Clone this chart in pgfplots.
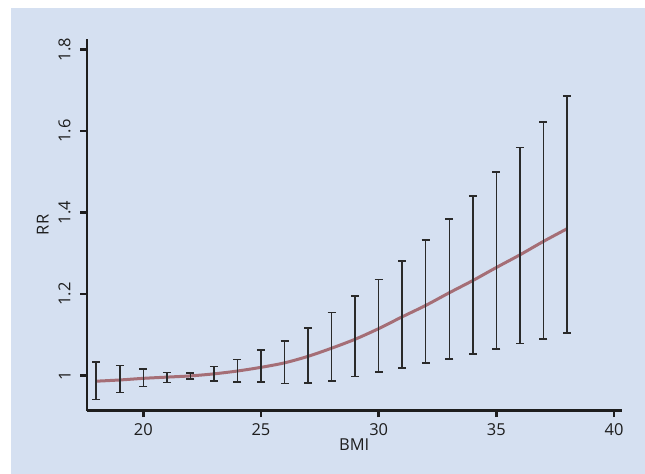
\documentclass[border=0pt]{standalone}
\usepackage{fontspec}
\setmainfont{Open Sans}
\usepackage{pgfplots}
\usepackage{pgfplotstable}
\pgfplotsset{compat=1.18}

\definecolor{bgblue}{HTML}{D5E0F1}
\definecolor{rrline}{HTML}{A56E76}
\definecolor{barcol}{HTML}{2A2A2A}
\definecolor{axcol}{HTML}{1E1E1E}

% BMI, RR and its 95% limits
\pgfplotstableread{
x   y     lo    hi
18  0.986 0.941 1.033
19  0.989 0.958 1.024
20  0.993 0.973 1.016
21  0.996 0.983 1.007
22  0.999 0.991 1.006
23  1.004 0.987 1.022
24  1.011 0.984 1.039
25  1.020 0.984 1.062
26  1.031 0.980 1.085
27  1.047 0.982 1.117
28  1.067 0.987 1.154
29  1.089 0.998 1.195
30  1.115 1.009 1.236
31  1.144 1.018 1.281
32  1.172 1.031 1.333
33  1.203 1.040 1.384
34  1.233 1.053 1.441
35  1.265 1.065 1.499
36  1.296 1.078 1.559
37  1.329 1.090 1.622
38  1.360 1.104 1.686
}\rrdata

\begin{document}
\begin{tikzpicture}
\fill[white] (0,0) rectangle (645bp,474bp);
\fill[bgblue] (11bp,0) rectangle (645bp,466bp);
\begin{axis}[
    at={(86.7bp,63.3bp)}, anchor=origin,
    scale only axis, width=535bp, height=371.7bp,
    axis lines=left, axis line style={-, line width=2.4bp, axcol},
    xmin=17.595, xmax=40.327, ymin=0.9136, ymax=1.8258,
    xtick={20,25,30,35,40},
    ytick={1,1.2,1.4,1.6,1.8}, yticklabels={1,1.2,1.4,1.6,1.8},
    tick align=outside, major tick length=6.5bp,
    tick style={line width=2.4bp, axcol},
    /pgf/number format/assume math mode=true,
    tick label style={font=\fontsize{16.5}{19}\selectfont, text=axcol},
    yticklabel style={rotate=90, anchor=south},
    yticklabel shift=6bp, xticklabel shift=3bp,
    xlabel={BMI}, ylabel={RR},
    every axis x label/.style={at={(rel axis cs:0.5,0)}, yshift=-34bp, anchor=center,
        font=\fontsize{16.5}{19}\selectfont, text=axcol},
    every axis y label/.style={at={(rel axis cs:0,0.5)}, xshift=-44bp, rotate=90, anchor=center,
        font=\fontsize{16.5}{19}\selectfont, text=axcol},
    clip=false,
]
\addplot[rrline, line width=3bp, smooth] table[x=x, y=y] {\rrdata};
\addplot[draw=none, mark=none,
    error bars/.cd, y dir=both, y explicit,
    error bar style={line width=1.5bp, barcol},
    error mark options={rotate=90, mark size=4bp, line width=1.5bp, barcol}]
    table[x=x, y=y, y error plus expr=\thisrow{hi}-\thisrow{y},
          y error minus expr=\thisrow{y}-\thisrow{lo}] {\rrdata};
\end{axis}
\end{tikzpicture}
\end{document}
